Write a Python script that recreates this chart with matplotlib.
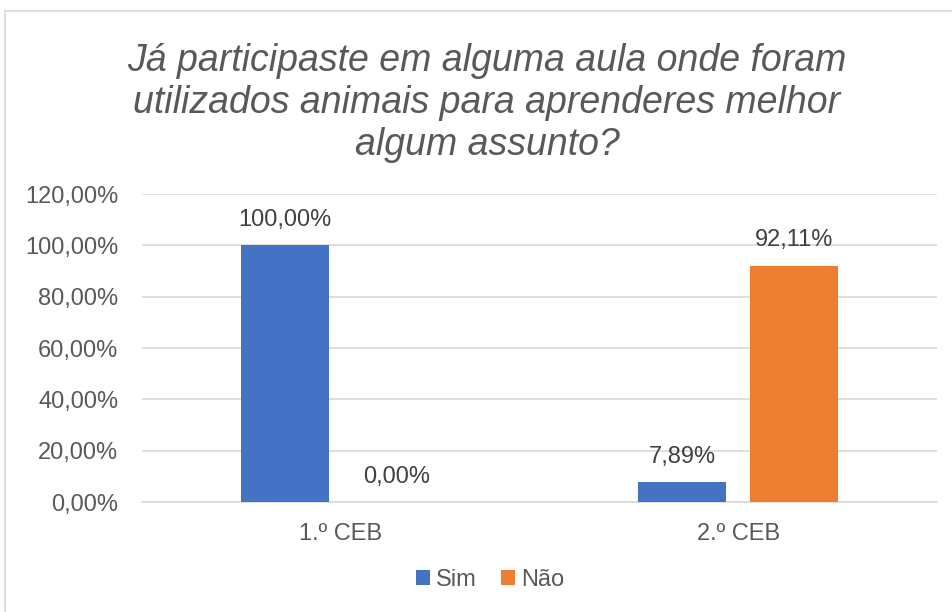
import matplotlib.pyplot as plt
from matplotlib.patches import Rectangle
import numpy as np

plt.rcParams["font.family"] = ["Liberation Sans", "DejaVu Sans"]

categories = ["1.º CEB", "2.º CEB"]
sim = [100.00, 7.89]
nao = [0.00, 92.11]
series_names = ["Sim", "Não"]
colors = ["#4472C4", "#ED7D31"]
title = "Já participaste em alguma aula onde foram\nutilizados animais para aprenderes melhor\nalgum assunto?"

fig = plt.figure(figsize=(9.53, 6.12), dpi=100)
# chart border (top / left edges visible)
fig.patches.append(Rectangle((5 / 953, -0.1), 1.2, 1 - 11 / 612 + 0.1,
                             transform=fig.transFigure, fill=False,
                             edgecolor="#D9D9D9", linewidth=1.2))

ax = fig.add_axes([142 / 953, 1 - 502 / 612, (937 - 142) / 953, (502 - 194) / 612])
x = np.arange(len(categories))
w = 0.222
off = 0.141
gray = "#595959"

for vals, dx, c, name in zip([sim, nao], [-off, off], colors, series_names):
    bars = ax.bar(x + dx, vals, width=w, color=c, label=name, zorder=3)
    for b, v in zip(bars, vals):
        ax.text(b.get_x() + b.get_width() / 2, v + 5.5, f"{v:.2f}%".replace(".", ","),
                ha="center", va="bottom", fontsize=17, color="#404040")

ax.set_xlim(-0.5, 1.5)
ax.set_ylim(0, 120)
ax.set_yticks(np.arange(0, 121, 20))
ax.set_yticklabels([f"{t:.2f}%".replace(".", ",") for t in np.arange(0, 121, 20)])
ax.set_xticks(x)
ax.set_xticklabels(categories)
ax.tick_params(axis="both", length=0, labelsize=17, labelcolor=gray)
ax.tick_params(axis="y", pad=17)
ax.tick_params(axis="x", pad=15)
ax.grid(axis="y", color="#D9D9D9", linewidth=1.2, zorder=0)
for s in ["top", "right", "left"]:
    ax.spines[s].set_visible(False)
ax.spines["bottom"].set_color("#D9D9D9")
ax.spines["bottom"].set_linewidth(1.2)

fig.text(487 / 953, 1 - 103 / 612, title, ha="center", va="center", fontsize=27,
         style="italic", color=gray, linespacing=1.22)

fig.legend(loc="center", bbox_to_anchor=(490 / 953, 1 - 580 / 612), ncol=2,
           frameon=False, fontsize=17, handlelength=0.6, handleheight=0.6,
           handletextpad=0.25, columnspacing=1.0, labelcolor=gray)

fig.savefig("out.png", dpi=100)
